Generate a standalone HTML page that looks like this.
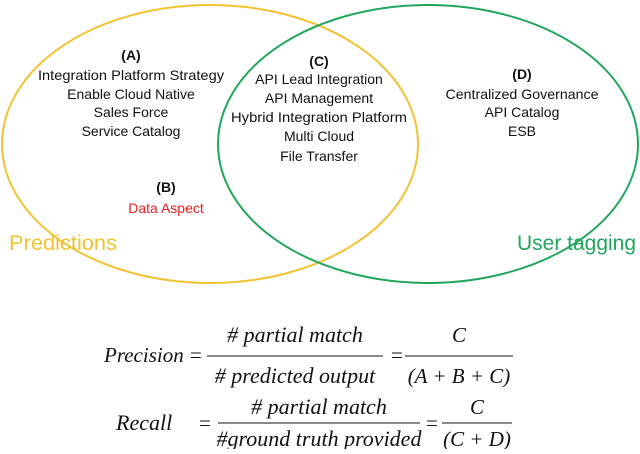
<!DOCTYPE html>
<html><head><style>body{margin:0;background:#fff}</style></head><body>
<svg width="640" height="449" xmlns="http://www.w3.org/2000/svg">
<ellipse cx="210" cy="144" rx="208" ry="139" fill="none" stroke="#f2c232" stroke-width="2"/>
<ellipse cx="428" cy="144" rx="210" ry="139" fill="none" stroke="#22a65c" stroke-width="2"/>
<g font-family="Liberation Sans, sans-serif" font-size="14" fill="#111" text-anchor="middle">
<text x="131" y="60" font-weight="bold">(A)</text>
<text x="131" y="80" textLength="186" lengthAdjust="spacingAndGlyphs">Integration Platform Strategy</text>
<text x="131" y="99">Enable Cloud Native</text>
<text x="131" y="117">Sales Force</text>
<text x="131" y="136">Service Catalog</text>
<text x="166" y="192" font-weight="bold">(B)</text>
<text x="166" y="213" fill="#e8201e">Data Aspect</text>
<text x="319" y="66" font-weight="bold">(C)</text>
<text x="319" y="84">API Lead Integration</text>
<text x="319" y="103">API Management</text>
<text x="319" y="122" textLength="176" lengthAdjust="spacingAndGlyphs">Hybrid Integration Platform</text>
<text x="319" y="141">Multi Cloud</text>
<text x="319" y="161">File Transfer</text>
<text x="522" y="79" font-weight="bold">(D)</text>
<text x="522" y="99" textLength="153" lengthAdjust="spacingAndGlyphs">Centralized Governance</text>
<text x="522" y="117">API Catalog</text>
<text x="522" y="136">ESB</text>
</g>
<text x="9" y="250" font-family="Liberation Sans, sans-serif" font-size="21" fill="#f2c232" textLength="108" lengthAdjust="spacingAndGlyphs">Predictions</text>
<text x="517" y="250" font-family="Liberation Sans, sans-serif" font-size="21" fill="#22a65c" textLength="119" lengthAdjust="spacingAndGlyphs">User tagging</text>
<g font-family="Liberation Serif, serif" font-style="italic" font-size="21" fill="#111">
<text x="104" y="362">Precision</text>
<text x="190" y="362" font-style="normal">=</text>
<text x="295" y="342" text-anchor="middle" font-size="22"># partial match</text>
<line x1="207" y1="356" x2="383" y2="356" stroke="#111" stroke-width="1"/>
<text x="295" y="383" text-anchor="middle" font-size="22"># predicted output</text>
<text x="391" y="362" font-style="normal">=</text>
<text x="459" y="342" text-anchor="middle">C</text>
<line x1="405" y1="356" x2="513" y2="356" stroke="#111" stroke-width="1"/>
<text x="459" y="383" text-anchor="middle">(A + B + C)</text>
<text x="116" y="430" font-size="22">Recall</text>
<text x="199" y="430" font-style="normal">=</text>
<text x="319" y="414" text-anchor="middle" font-size="22"># partial match</text>
<line x1="218" y1="423" x2="420" y2="423" stroke="#111" stroke-width="1"/>
<text x="319" y="446" text-anchor="middle" font-size="22">#ground truth provided</text>
<text x="426" y="430" font-style="normal">=</text>
<text x="477" y="414" text-anchor="middle">C</text>
<line x1="442" y1="423" x2="512" y2="423" stroke="#111" stroke-width="1"/>
<text x="477" y="446" text-anchor="middle">(C + D)</text>
</g>
</svg>
</body></html>
